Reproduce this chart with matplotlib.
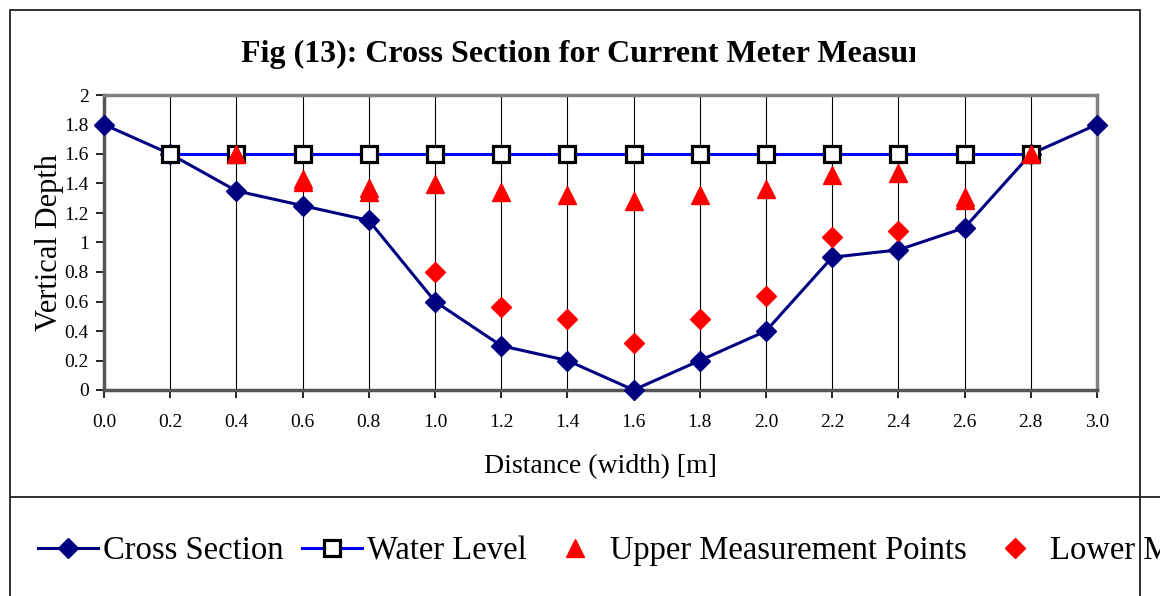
import numpy as np
import matplotlib
matplotlib.use("Agg")
import matplotlib.pyplot as plt
from matplotlib.lines import Line2D
from matplotlib.patches import Rectangle
from matplotlib.transforms import Bbox, TransformedBbox
from matplotlib.ticker import MultipleLocator, FuncFormatter

# distance across the channel (m)
x_section = [0.0, 0.2, 0.4, 0.6, 0.8, 1.0, 1.2, 1.4, 1.6, 1.8, 2.0, 2.2, 2.4, 2.6, 2.8, 3.0]
y_section = [1.8, 1.6, 1.35, 1.25, 1.15, 0.6, 0.3, 0.2, 0.0, 0.2, 0.4, 0.9, 0.95, 1.1, 1.6, 1.8]

x_water = [0.2, 0.4, 0.6, 0.8, 1.0, 1.2, 1.4, 1.6, 1.8, 2.0, 2.2, 2.4, 2.6, 2.8]
y_water = [1.6] * len(x_water)

x_upper = [0.4, 0.6, 0.8, 1.0, 1.2, 1.4, 1.6, 1.8, 2.0, 2.2, 2.4, 2.6, 2.8]
y_upper = [1.6, 1.43, 1.37, 1.40, 1.34, 1.32, 1.28, 1.32, 1.36, 1.46, 1.47, 1.31, 1.6]

# second point at the shallow verticals (drawn on top of the upper ones)
x_single = [0.6, 0.8, 2.6]
y_single = [1.41, 1.345, 1.29]

x_lower = [1.0, 1.2, 1.4, 1.6, 1.8, 2.0, 2.2, 2.4]
y_lower = [0.80, 0.56, 0.48, 0.32, 0.48, 0.64, 1.04, 1.08]

title = "Fig (13): Cross Section for Current Meter Measurements"

plt.rcParams['font.family'] = ['Liberation Serif', 'DejaVu Serif']

W, H = 1160, 596
fig = plt.figure(figsize=(W / 100, H / 100), dpi=100)
ax = fig.add_axes([104 / W, 1 - 390 / H, (1097 - 104) / W, (390 - 95) / H])

ax.plot(x_section, y_section, color='#000080', lw=2.2, marker='D', ms=10.5,
        mfc='#000080', mec='#000080', label='Cross Section', clip_on=False, zorder=3)
ax.plot(x_water, y_water, color='#0000FF', lw=2.2, marker='s', ms=11,
        mfc='white', mec='black', mew=2.3, label='Water Level', clip_on=False, zorder=4)
ax.plot(x_upper, y_upper, ls='none', marker='^', ms=12.5, color='#FF0000',
        label='Upper Measurement Points', clip_on=False, zorder=5)
ax.plot(x_lower, y_lower, ls='none', marker='D', ms=10, color='#FF0000',
        label='Lower Measurement Points', clip_on=False, zorder=6)
ax.plot(x_single, y_single, ls='none', marker='^', ms=12.5, color='#FF0000',
        label='_nolegend_', clip_on=False, zorder=6)

ax.set_xlim(0, 3.0)
ax.set_ylim(0, 2)
ax.xaxis.set_major_locator(MultipleLocator(0.2))
ax.yaxis.set_major_locator(MultipleLocator(0.2))
ax.xaxis.set_major_formatter(FuncFormatter(lambda v, p: '%.1f' % v))
ax.yaxis.set_major_formatter(FuncFormatter(lambda v, p: '%g' % round(v, 1)))
ax.tick_params(axis='both', direction='out', length=6, width=1.2, labelsize=14, color='black')
ax.tick_params(axis='x', pad=11)
ax.tick_params(axis='y', pad=5)
ax.grid(axis='x', color='black', lw=0.8)
ax.set_axisbelow(True)

for side in ['top', 'right']:
    ax.spines[side].set_color('#808080')
    ax.spines[side].set_linewidth(2.5)
for side in ['left', 'bottom']:
    ax.spines[side].set_color('#555555')
    ax.spines[side].set_linewidth(2.5)

ax.set_xlabel('Distance (width) [m]', fontsize=20, labelpad=17)
ax.set_ylabel('Vertical Depth', fontsize=22, labelpad=0)

# title, cut off on the right like the original
t = fig.text(241 / W, 1 - 62 / H, title, fontsize=23, fontweight='bold',
             ha='left', va='baseline')
clip = TransformedBbox(Bbox([[0, 0], [915 / W, 1]]), fig.transFigure)
t.set_clip_box(clip)
t.set_clip_on(True)

# chart frame
fig.add_artist(Rectangle((10 / W, -0.1), (1140 - 10) / W, 1.1 - 10 / H,
                         transform=fig.transFigure, fill=False, ec='#222222', lw=1.3))
fig.add_artist(Line2D([10 / W, 1.0], [1 - 497 / H, 1 - 497 / H],
                      transform=fig.transFigure, color='#222222', lw=1.3))

leg = fig.legend(loc='center left', bbox_to_anchor=(38 / W, 1 - 551 / H), ncol=4,
                 frameon=False, fontsize=23.5, borderpad=0, borderaxespad=0,
                 handlelength=1.85, handletextpad=0.15, columnspacing=0.55)

fig.savefig('out.png', dpi=100)
